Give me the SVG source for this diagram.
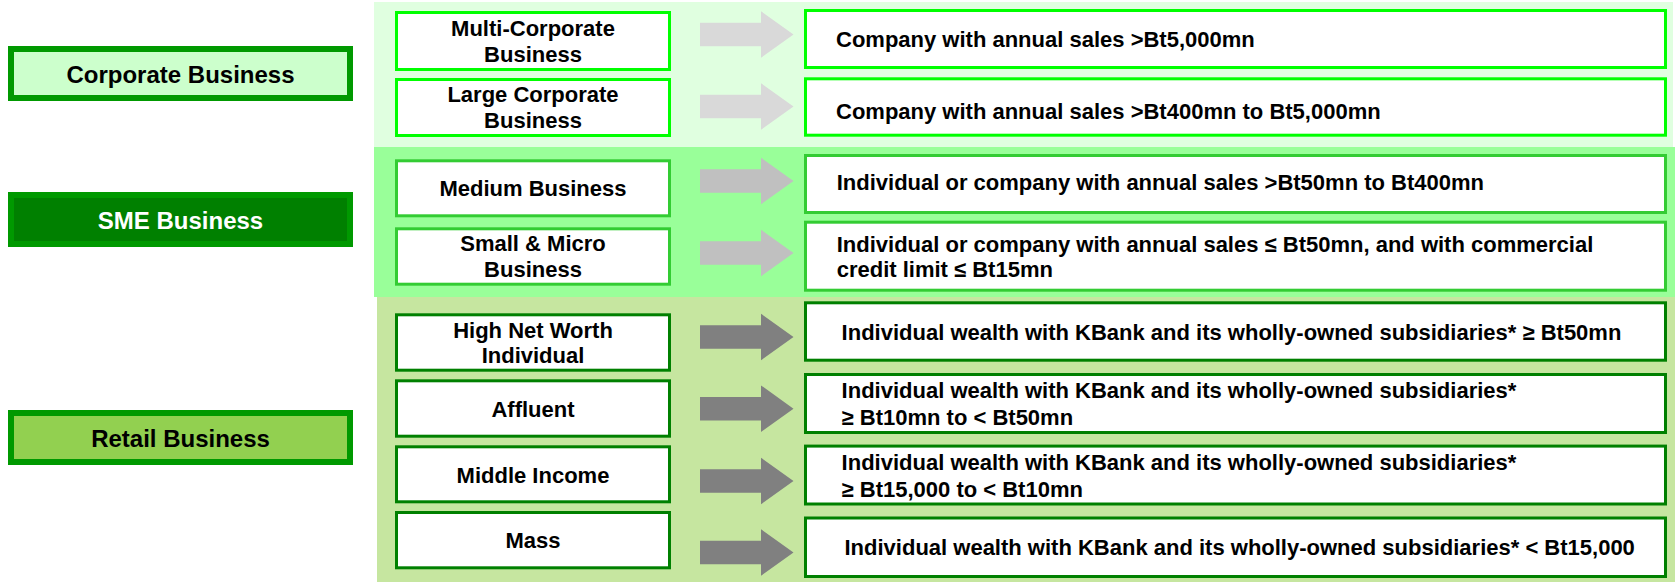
<svg xmlns="http://www.w3.org/2000/svg" width="1675" height="582" viewBox="0 0 1675 582">
<style>
text{font-family:"Liberation Sans",Arial,Helvetica,sans-serif;font-weight:bold;fill:#000}
.main{font-size:24px;text-anchor:middle}
.sub{font-size:22px;text-anchor:middle}
.desc{font-size:22px}
.mainbox{stroke:#009900;stroke-width:6}
.box{fill:#fff;stroke-width:3}
.bc{stroke:#00FF00}
.bs{stroke:#33CC33}
.br{stroke:#008000}
.ac{fill:#D9D9D9}
.as{fill:#C0C0C0}
.ar{fill:#808080}
</style>
<g id="panels">
<rect x="374" y="2" width="1299" height="145" fill="#E0FFE0"/>
<rect x="374" y="147" width="1301" height="150" fill="#99FF99"/>
<rect x="377" y="297" width="1298" height="285" fill="#C6E6A0"/>
</g>
<g id="corporate-business">
<rect class="mainbox" x="11" y="49" width="339" height="49" fill="#CCFFCC"/>
<text class="main" x="180.5" y="82.5">Corporate Business</text>
</g>
<g id="sme-business">
<rect class="mainbox" x="11" y="195" width="339" height="49" fill="#008000"/>
<text class="main" x="180.5" y="229" style="fill:#fff">SME Business</text>
</g>
<g id="retail-business">
<rect class="mainbox" x="11" y="413" width="339" height="49" fill="#92D050"/>
<text class="main" x="180.5" y="446.5">Retail Business</text>
</g>
<g id="multi-corporate">
<rect class="box bc" x="396.5" y="12.5" width="273" height="57"/>
<text class="sub" x="533" y="35.7">Multi-Corporate</text>
<text class="sub" x="533" y="61.7">Business</text>
</g>
<g id="large-corporate">
<rect class="box bc" x="396.5" y="79.5" width="273" height="56"/>
<text class="sub" x="533" y="101.7">Large Corporate</text>
<text class="sub" x="533" y="127.7">Business</text>
</g>
<g id="medium-business">
<rect class="box bs" x="396.5" y="160.8" width="273" height="55"/>
<text class="sub" x="533" y="195.7">Medium Business</text>
</g>
<g id="small-micro">
<rect class="box bs" x="396.5" y="228.8" width="273" height="55.4"/>
<text class="sub" x="533" y="251">Small &amp; Micro</text>
<text class="sub" x="533" y="276.7">Business</text>
</g>
<g id="hnw">
<rect class="box br" x="396.5" y="314.8" width="273" height="55.4"/>
<text class="sub" x="533" y="337.7">High Net Worth</text>
<text class="sub" x="533" y="363.3">Individual</text>
</g>
<g id="affluent">
<rect class="box br" x="396.5" y="380.8" width="273" height="55.4"/>
<text class="sub" x="533" y="416.7">Affluent</text>
</g>
<g id="middle-income">
<rect class="box br" x="396.5" y="446.8" width="273" height="55"/>
<text class="sub" x="533" y="482.7">Middle Income</text>
</g>
<g id="mass">
<rect class="box br" x="396.5" y="512.5" width="273" height="55.3"/>
<text class="sub" x="533" y="548.3">Mass</text>
</g>
<g id="desc-multi">
<rect class="box bc" x="805.5" y="10.5" width="860" height="57"/>
<text class="desc" x="836" y="46.7">Company with annual sales &gt;Bt5,000mn</text>
</g>
<g id="desc-large">
<rect class="box bc" x="805.5" y="78.8" width="860" height="56.4"/>
<text class="desc" x="836" y="119">Company with annual sales &gt;Bt400mn to Bt5,000mn</text>
</g>
<g id="desc-medium">
<rect class="box bs" x="805.5" y="155.5" width="860" height="57"/>
<text class="desc" x="836.7" y="190">Individual or company with annual sales &gt;Bt50mn to Bt400mn</text>
</g>
<g id="desc-small">
<rect class="box bs" x="805.5" y="222.2" width="860" height="68"/>
<text class="desc" x="836.7" y="251.7">Individual or company with annual sales ≤ Bt50mn, and with commercial</text>
<text class="desc" x="836.7" y="276.7">credit limit ≤ Bt15mn</text>
</g>
<g id="desc-hnw">
<rect class="box br" x="805.5" y="302.8" width="860" height="57.4"/>
<text class="desc" x="841.6" y="340">Individual wealth with KBank and its wholly-owned subsidiaries* ≥ Bt50mn</text>
</g>
<g id="desc-affluent">
<rect class="box br" x="805.5" y="374.5" width="860" height="58"/>
<text class="desc" x="841.6" y="398.3">Individual wealth with KBank and its wholly-owned subsidiaries*</text>
<text class="desc" x="841.6" y="425">≥ Bt10mn to &lt; Bt50mn</text>
</g>
<g id="desc-middle">
<rect class="box br" x="805.5" y="446.1" width="860" height="57.9"/>
<text class="desc" x="841.6" y="470">Individual wealth with KBank and its wholly-owned subsidiaries*</text>
<text class="desc" x="841.6" y="496.7">≥ Bt15,000 to &lt; Bt10mn</text>
</g>
<g id="desc-mass">
<rect class="box br" x="805.5" y="518" width="860" height="58.5"/>
<text class="desc" x="844.5" y="555">Individual wealth with KBank and its wholly-owned subsidiaries* &lt; Bt15,000</text>
</g>
<g id="connectors">
<polygon class="ac" transform="translate(0,34.5)" points="700,-11.7 761,-11.7 761,-23.3 793.5,0 761,23.3 761,11.7 700,11.7"/>
<polygon class="ac" transform="translate(0,106.5)" points="700,-11.7 761,-11.7 761,-23.3 793.5,0 761,23.3 761,11.7 700,11.7"/>
<polygon class="as" transform="translate(0,181)" points="700,-11.7 761,-11.7 761,-23.3 793.5,0 761,23.3 761,11.7 700,11.7"/>
<polygon class="as" transform="translate(0,253)" points="700,-11.7 761,-11.7 761,-23.3 793.5,0 761,23.3 761,11.7 700,11.7"/>
<polygon class="ar" transform="translate(0,337)" points="700,-11.7 761,-11.7 761,-23.3 793.5,0 761,23.3 761,11.7 700,11.7"/>
<polygon class="ar" transform="translate(0,408.7)" points="700,-11.7 761,-11.7 761,-23.3 793.5,0 761,23.3 761,11.7 700,11.7"/>
<polygon class="ar" transform="translate(0,481)" points="700,-11.7 761,-11.7 761,-23.3 793.5,0 761,23.3 761,11.7 700,11.7"/>
<polygon class="ar" transform="translate(0,552.5)" points="700,-11.7 761,-11.7 761,-23.3 793.5,0 761,23.3 761,11.7 700,11.7"/>
</g>
</svg>
